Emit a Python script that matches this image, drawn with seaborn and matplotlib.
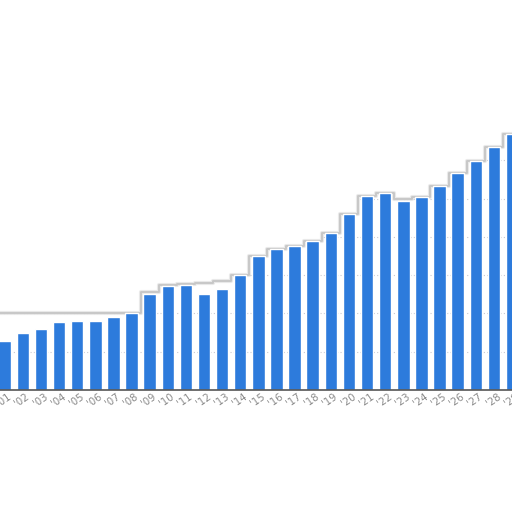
import numpy as np
import pandas as pd
import matplotlib
matplotlib.use("Agg")
import matplotlib.pyplot as plt
import seaborn as sns
from matplotlib.transforms import ScaledTranslation

# Values (grid units)
labels = ["'%02d" % i for i in range(1, 30)]
values = [1.29, 1.48, 1.59, 1.77, 1.81, 1.81, 1.91, 2.00, 2.51, 2.72,
          2.75, 2.51, 2.65, 3.01, 3.51, 3.69, 3.76, 3.90, 4.09, 4.60,
          5.07, 5.15, 4.93, 5.05, 5.33, 5.66, 5.99, 6.35, 6.68]
# edge of the "paper" shadow above the bars
shadow = [2.02, 2.02, 2.02, 2.02, 2.02, 2.02, 2.02, 2.02, 2.55, 2.75,
          2.78, 2.80, 2.85, 3.01, 3.51, 3.69, 3.76, 3.90, 4.09, 4.60,
          5.07, 5.15, 4.98, 5.05, 5.33, 5.66, 5.99, 6.35, 6.68]

df = pd.DataFrame({"label": labels, "value": values})

sns.set_style("white")
fig = plt.figure(figsize=(5.12, 5.12), dpi=100)
ax = fig.add_axes([0, 0.238, 1, 0.762])

sns.barplot(data=df, x="label", y="value", color="#2d7bdc", saturation=1,
            width=0.69, ax=ax, zorder=3)

x = np.arange(len(values))
ymax = 10.18
ax.set_ylim(0, ymax)
ax.set_xlim(-0.26, 28.0)

# dotted gridlines, hidden above the shadow edge
for g in range(1, 11):
    ax.axhline(g, color="#c8c8d0", lw=0.8, ls=(0, (1, 2)), zorder=1)
xs = np.concatenate([[x[0] - 0.6], x, [x[-1] + 0.6]])
sh = np.concatenate([[shadow[0]], shadow, [shadow[-1]]])
ax.fill_between(xs, sh, ymax, step="mid", color="white", zorder=2)
ax.step(xs, sh, where="mid", color="#8a8a8a", lw=3.0, alpha=0.18, zorder=2.5)
ax.step(xs, sh, where="mid", color="#8a8a8a", lw=1.4, alpha=0.35, zorder=2.6)

for s in ["top", "left", "right"]:
    ax.spines[s].set_visible(False)
ax.spines["bottom"].set_color("#555555")
ax.spines["bottom"].set_linewidth(1.2)
ax.spines["bottom"].set_zorder(4)

ax.set_yticks([])
ax.set_xlabel("")
ax.set_ylabel("")
ax.tick_params(axis="x", length=0, pad=1)
plt.setp(ax.get_xticklabels(), rotation=35, ha="right", va="top",
         rotation_mode="anchor", color="#8a8a8a", fontsize=7.2)
offset = ScaledTranslation(2 / 72, 0, fig.dpi_scale_trans)
for t in ax.get_xticklabels():
    t.set_transform(t.get_transform() + offset)

fig.savefig("out.png", dpi=100)
